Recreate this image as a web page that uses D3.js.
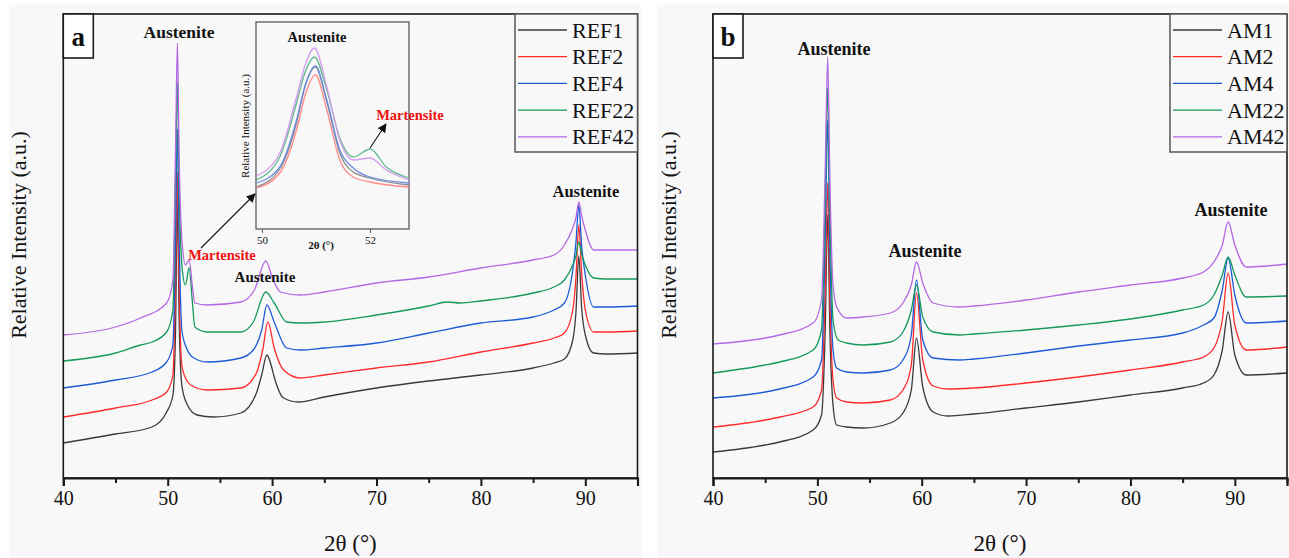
<!DOCTYPE html>
<html><head><meta charset="utf-8">
<script src="https://cdn.jsdelivr.net/npm/d3@7"></script>
<style>body{margin:0;background:#fff;} svg{display:block;font-family:"Liberation Serif","Times New Roman",serif;}</style>
</head><body><svg id="c" width="1289" height="558"></svg>
<script>
// ---------------- DATA (2θ in degrees, intensity in a.u.) ----------------
const xTickValues = [40, 45, 50, 55, 60, 65, 70, 75, 80, 85, 90, 95];
const xTickLabels = [40, 50, 60, 70, 80, 90];
const namesA = ["REF1", "REF2", "REF4", "REF22", "REF42"];
const namesB = ["AM1", "AM2", "AM4", "AM22", "AM42"];

const REF1 = [[40,35],[45,44],[48.5,51],[49.9,66],[50.5,83],[50.75,148],[50.93,278],[51.1,158],[51.35,93],[51.8,75],[52.8,63],[54.4,61],[57,65],[58.5,85],[59.0,103],[59.5,123],[59.9,113],[60.2,101],[61.1,80],[62.5,76],[65,81],[70,90],[75,97],[80,103],[85,110],[87,115],[88,119],[88.8,138],[89.1,165],[89.38,222],[89.65,170],[90,143],[90.8,125],[92,124],[95,125]];
const REF2 = [[40,61],[45,70],[48.5,78],[49.9,86],[50.5,103],[50.75,198],[50.93,306],[51.1,188],[51.35,113],[51.8,98],[52.2,93],[53.8,88],[57,90],[58.5,105],[59.1,128],[59.6,156],[60.2,130],[61.1,108],[62.7,100],[65,103],[70,110],[75,116],[80,126],[85,135],[87,140],[88,145],[88.8,168],[89.1,200],[89.38,253],[89.65,205],[90,168],[90.8,146],[92,146],[95,147]];
const REF4 = [[40,90],[45,98],[48.5,106],[49.9,116],[50.5,133],[50.75,238],[50.93,349],[51.1,238],[51.35,148],[51.8,130],[52.5,120],[53.8,116],[57,120],[58.2,128],[59.0,148],[59.5,173],[60.2,156],[61.4,130],[62.7,128],[65,130],[70,135],[75,145],[80,155],[85,161],[87,168],[88,175],[88.8,208],[89.1,235],[89.38,273],[89.65,232],[90,203],[90.8,171],[92,171],[95,172]];
const REF22 = [[40,117],[45,125],[47.4,133],[48.5,136],[49.9,146],[50.5,168],[50.75,298],[50.93,396],[51.1,288],[51.4,208],[51.7,193],[52.05,210],[52.35,178],[52.6,151],[53.8,146],[57,146],[58.2,156],[59.4,186],[60.2,175],[61.4,156],[62.7,155],[65,156],[70,163],[75,172],[76.8,176],[78,175],[80,177],[85,185],[87,191],[88,198],[88.8,213],[89.1,222],[89.38,236],[89.65,224],[90,213],[90.8,200],[92,199],[95,199]];
const REF42 = [[40,143],[45,151],[47.4,160],[49.9,175],[50.5,198],[50.75,328],[50.93,435],[51.1,318],[51.4,233],[51.7,213],[52.05,218],[52.35,193],[52.6,175],[53.8,173],[57,176],[58.3,188],[59.4,217],[60.1,198],[60.8,186],[62.7,183],[65,186],[70,195],[75,201],[80,210],[85,218],[87,223],[88,233],[88.8,250],[89.1,260],[89.38,276],[89.65,262],[90,248],[90.8,228],[92,228],[95,228]];

const AM1 = [[40,26],[45,33],[46.4,36],[49.6,48],[50.4,63],[50.75,148],[50.99,263],[51.2,148],[51.5,73],[51.85,53],[52.8,51],[54.4,50],[57,55],[58.2,65],[59.0,88],[59.5,140],[60.1,91],[61.1,66],[62.5,62],[65,64],[70,70],[75,76],[80,83],[85,90],[87,95],[88,103],[88.8,128],[89.36,166],[90,123],[91.1,103],[95,105]];
const AM2 = [[40,51],[45,58],[46.4,61],[49.6,71],[50.4,88],[50.75,188],[50.99,295],[51.2,178],[51.5,98],[51.85,80],[52.8,76],[54.4,75],[57,78],[58.2,88],[59.0,113],[59.5,185],[60.1,118],[61.1,92],[62.5,89],[65,90],[70,95],[75,101],[80,108],[85,116],[87,121],[88,130],[88.8,158],[89.36,205],[90,153],[91.1,128],[95,131]];
const AM4 = [[40,80],[45,86],[46.4,89],[49.6,101],[50.4,118],[50.75,238],[50.99,358],[51.2,228],[51.5,128],[51.85,110],[52.8,106],[54.4,105],[57,108],[58.2,118],[59.0,143],[59.5,198],[60.1,138],[61.1,120],[63.6,118],[65,119],[70,125],[75,132],[80,138],[85,145],[87,153],[88,160],[88.8,188],[89.36,220],[90,183],[91.1,155],[95,157]];
const AM22 = [[40,105],[45,113],[46.4,116],[49.6,128],[50.4,148],[50.75,278],[50.99,390],[51.2,268],[51.5,158],[52.0,138],[52.8,135],[54.4,133],[57,136],[58.2,146],[59.0,168],[59.5,193],[60.1,161],[61.1,146],[63.6,143],[65,144],[70,148],[75,153],[80,159],[85,168],[87,173],[88,183],[88.8,203],[89.36,221],[90,203],[91.1,181],[95,182]];
const AM42 = [[40,134],[45,140],[46.4,143],[49.6,155],[50.4,178],[50.75,308],[50.99,421],[51.2,298],[51.5,193],[51.85,171],[52.8,160],[54.4,161],[57,165],[58.2,175],[59.0,193],[59.5,216],[60.1,195],[61.1,175],[63.6,171],[65,172],[70,178],[75,186],[80,193],[85,200],[87,206],[88,216],[88.8,233],[89.36,256],[90,233],[91.1,211],[95,214]];

// inset (zoom of panel a around 51°)
const insetTicks = [50, 52];
const inREF1 = [[49.9,42],[50.33,60],[50.64,106],[50.8,143],[50.99,162],[51.2,127],[51.44,76],[51.69,57],[52.0,51],[52.72,44]];
const inREF2 = [[49.9,41],[50.33,56],[50.64,99],[50.8,134],[50.99,154],[51.2,119],[51.44,69],[51.69,52],[52.0,47],[52.72,42]];
const inREF4 = [[49.9,46],[50.33,62],[50.64,109],[50.8,144],[50.99,163],[51.2,129],[51.44,79],[51.69,61],[52.0,52],[52.72,46]];
const inREF22 = [[49.9,49],[50.33,72],[50.64,126],[50.8,157],[50.97,172],[51.2,139],[51.44,91],[51.69,72],[52.0,80],[52.3,62],[52.72,51]];
const inREF42 = [[49.9,53],[50.33,76],[50.64,132],[50.8,164],[50.97,181],[51.2,142],[51.44,89],[51.69,69],[52.0,71],[52.3,59],[52.72,49]];

// ---------------- STYLE ----------------
const colors = ["#3a3a3a", "#ff2b2b", "#1d5bd6", "#15995a", "#b468e4"];
const insetColors = ["#8a8a8a", "#ff8a8a", "#6d8ee0", "#5fb98c", "#d49cf0"];
const serif = '"Liberation Serif","Times New Roman",serif';

const svg = d3.select("#c");
const defs = svg.append("defs");
defs.append("marker").attr("id", "arr").attr("viewBox", "0 0 10 10")
  .attr("refX", 9).attr("refY", 5).attr("markerWidth", 9).attr("markerHeight", 9)
  .attr("markerUnits", "userSpaceOnUse").attr("orient", "auto")
  .append("path").attr("d", "M0,0 L10,5 L0,10 Z").attr("fill", "#111");

function panel(cfg) {
  const g = svg.append("g");
  g.append("rect").attr("x", cfg.bg[0]).attr("y", 4).attr("width", cfg.bg[1] - cfg.bg[0]).attr("height", 554).attr("fill", "#f8f8f8");
  const x = d3.scaleLinear().domain([40, 95]).range([cfg.left, cfg.right]);
  const y = d3.scaleLinear().domain([0, 464]).range([478, 14]);
  const line = d3.line().x(d => x(d[0])).y(d => y(d[1])).curve(d3.curveMonotoneX);
  cfg.series.forEach((s, i) => {
    g.append("path").datum(s).attr("d", line).attr("fill", "none")
      .attr("stroke", colors[i]).attr("stroke-width", 1.3).attr("stroke-linejoin", "round");
  });
  g.append("rect").attr("x", cfg.left).attr("y", 14).attr("width", cfg.right - cfg.left).attr("height", 464)
    .attr("fill", "none").attr("stroke", "#1a1a1a").attr("stroke-width", 1.6);
  const ax = g.append("g").attr("transform", "translate(0,478)")
    .call(d3.axisBottom(x).tickValues(xTickValues).tickSize(8).tickFormat(d => xTickLabels.includes(d) ? d : ""));
  ax.select(".domain").attr("stroke", "#1a1a1a").attr("stroke-width", 2.2);
  ax.selectAll(".tick line").attr("stroke", "#1a1a1a").attr("stroke-width", 2)
    .attr("y2", d => xTickLabels.includes(d) ? 8 : 5);
  ax.selectAll(".tick text").attr("font-family", serif).attr("font-size", 20).attr("fill", "#111").attr("y", 13);
  g.append("text").attr("x", (cfg.left + cfg.right) / 2).attr("y", 551).attr("text-anchor", "middle")
    .attr("font-family", serif).attr("font-size", 23).attr("fill", "#111").text("2θ (°)");
  g.append("text").attr("transform", `translate(${cfg.ytitleX},235) rotate(-90)`).attr("text-anchor", "middle")
    .attr("font-family", serif).attr("font-size", 22).attr("fill", "#111").text("Relative Intensity (a.u.)");
  g.append("rect").attr("x", cfg.left).attr("y", 14).attr("width", 30).attr("height", 44)
    .attr("fill", "#fff").attr("stroke", "#1a1a1a").attr("stroke-width", 1.6);
  g.append("text").attr("x", cfg.left + 15).attr("y", 46).attr("text-anchor", "middle")
    .attr("font-family", serif).attr("font-weight", "bold").attr("font-size", 27).attr("fill", "#111").text(cfg.letter);
  const lg = g.append("g");
  lg.append("rect").attr("x", cfg.legX).attr("y", 14).attr("width", cfg.right - cfg.legX).attr("height", 138)
    .attr("fill", "#f8f8f8").attr("stroke", "#555").attr("stroke-width", 1.5);
  cfg.names.forEach((n, i) => {
    const yy = 30 + i * 26.7;
    lg.append("line").attr("x1", cfg.legX + 3).attr("x2", cfg.legX + 52).attr("y1", yy).attr("y2", yy)
      .attr("stroke", colors[i]).attr("stroke-width", 1.3);
    lg.append("text").attr("x", cfg.legX + 57).attr("y", yy + 7.5).attr("font-family", serif)
      .attr("font-size", 22).attr("fill", "#111").text(n);
  });
  cfg.labels.forEach(l => {
    g.append("text").attr("x", l.cx).attr("y", l.by).attr("text-anchor", "middle")
      .attr("font-family", serif).attr("font-weight", "bold").attr("font-size", l.fs)
      .attr("fill", l.color || "#111").text(l.t);
  });
  return {g, x, y};
}

panel({bg: [9, 641], left: 63.3, right: 637.5, series: [REF1, REF2, REF4, REF22, REF42], names: namesA,
  letter: "a", legX: 515, ytitleX: 26,
  labels: [
    {t: "Austenite", cx: 179, by: 38, fs: 17.5},
    {t: "Martensite", cx: 222, by: 260, fs: 14.5, color: "#ee1111"},
    {t: "Austenite", cx: 265, by: 282, fs: 15},
    {t: "Austenite", cx: 586, by: 197, fs: 16.5}
  ]});

panel({bg: [657, 1289], left: 713, right: 1287, series: [AM1, AM2, AM4, AM22, AM42], names: namesB,
  letter: "b", legX: 1170, ytitleX: 676,
  labels: [
    {t: "Austenite", cx: 834, by: 55, fs: 18},
    {t: "Austenite", cx: 925, by: 257, fs: 18},
    {t: "Austenite", cx: 1231, by: 216, fs: 18}
  ]});

// ---------------- INSET ----------------
const ig = svg.append("g");
ig.append("rect").attr("x", 256).attr("y", 22).attr("width", 153).attr("height", 207)
  .attr("fill", "#f8f8f8").attr("stroke", "#666").attr("stroke-width", 1.4);
const ix = d3.scaleLinear().domain([49.89, 52.72]).range([256, 409]);
const iy = d3.scaleLinear().domain([0, 207]).range([229, 22]);
const iline = d3.line().x(d => ix(d[0])).y(d => iy(d[1])).curve(d3.curveMonotoneX);
[inREF1, inREF2, inREF4, inREF22, inREF42].forEach((s, i) => {
  ig.append("path").datum(s).attr("d", iline).attr("fill", "none")
    .attr("stroke", insetColors[i]).attr("stroke-width", 1.3);
});
const iax = ig.append("g").attr("transform", "translate(0,229)")
  .call(d3.axisBottom(ix).tickValues(insetTicks).tickSize(4).tickFormat(d3.format("d")));
iax.select(".domain").remove();
iax.selectAll(".tick line").attr("stroke", "#555");
iax.selectAll(".tick text").attr("font-family", serif).attr("font-size", 11).attr("fill", "#111").attr("y", 7);
ig.append("text").attr("x", 321).attr("y", 249).attr("text-anchor", "middle").attr("font-family", serif)
  .attr("font-size", 11).attr("font-weight", "bold").attr("fill", "#111").text("2θ (°)");
ig.append("text").attr("transform", "translate(249,126) rotate(-90)").attr("text-anchor", "middle")
  .attr("font-family", serif).attr("font-size", 11).attr("fill", "#111").text("Relative Intensity (a.u.)");
ig.append("text").attr("x", 317).attr("y", 42).attr("text-anchor", "middle").attr("font-family", serif)
  .attr("font-weight", "bold").attr("font-size", 14.5).attr("fill", "#111").text("Austenite");
ig.append("text").attr("x", 410).attr("y", 120).attr("text-anchor", "middle").attr("font-family", serif)
  .attr("font-weight", "bold").attr("font-size", 14.5).attr("fill", "#ee1111").text("Martensite");
svg.append("line").attr("x1", 201).attr("y1", 248).attr("x2", 255).attr("y2", 194)
  .attr("stroke", "#111").attr("stroke-width", 1.1).attr("marker-end", "url(#arr)");
svg.append("line").attr("x1", 370).attr("y1", 148).attr("x2", 386).attr("y2", 124)
  .attr("stroke", "#111").attr("stroke-width", 1.1).attr("marker-end", "url(#arr)");
</script></body></html>
